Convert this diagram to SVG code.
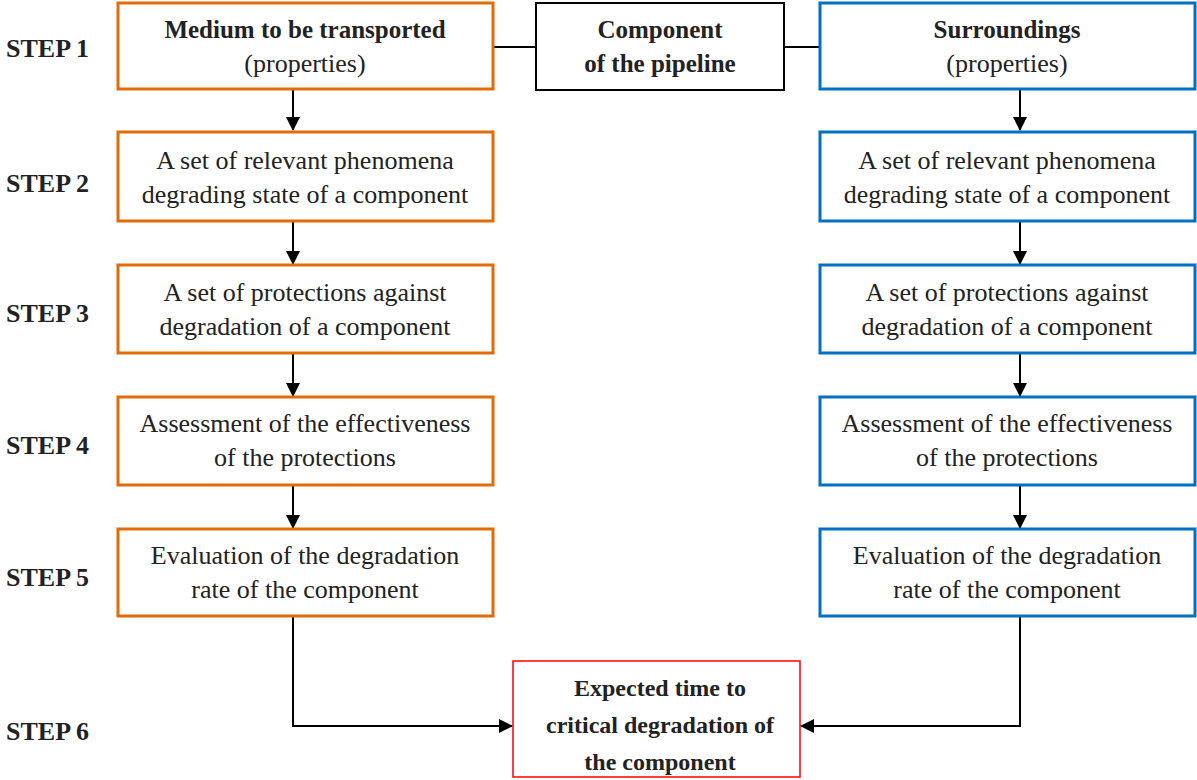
<svg xmlns="http://www.w3.org/2000/svg" width="1197" height="780" viewBox="0 0 1197 780" font-family="'Liberation Serif', 'Times New Roman', serif">
<style>
text{font-family:'Liberation Serif','Times New Roman',serif;fill:#222;}
.t{font-size:26px;text-anchor:middle;}
.b{font-size:25px;font-weight:bold;text-anchor:middle;}
.b2{font-size:24px;font-weight:bold;text-anchor:middle;}
.s{font-size:26px;font-weight:bold;}
.o{fill:#fff;stroke:#E36C0A;stroke-width:3;}
.bl{fill:#fff;stroke:#0070C0;stroke-width:3;}
.k{fill:#fff;stroke:#000;stroke-width:2;}
.r{fill:#fff;stroke:#FF0000;stroke-width:1.5;}
.c{fill:none;stroke:#000;stroke-width:2;}
</style>
<defs>
<marker id="ah2" markerWidth="14" markerHeight="14" refX="13" refY="7" orient="auto" markerUnits="userSpaceOnUse" viewBox="0 0 14 14"><path d="M0,0 L14,7 L0,14 z" fill="#000"/></marker>
</defs>
<g id="labels">
<text class="s" x="6" y="57">STEP 1</text>
<text class="s" x="6" y="192">STEP 2</text>
<text class="s" x="6" y="322">STEP 3</text>
<text class="s" x="6" y="454">STEP 4</text>
<text class="s" x="6" y="586">STEP 5</text>
<text class="s" x="6" y="740">STEP 6</text>
</g>
<g id="connectors">
<line class="c" x1="493" y1="47" x2="536" y2="47"/>
<line class="c" x1="784" y1="47" x2="820" y2="47"/>
<line class="c" x1="293" y1="89" x2="293" y2="130" marker-end="url(#ah2)"/>
<line class="c" x1="293" y1="221" x2="293" y2="264" marker-end="url(#ah2)"/>
<line class="c" x1="293" y1="353" x2="293" y2="396" marker-end="url(#ah2)"/>
<line class="c" x1="293" y1="485" x2="293" y2="528" marker-end="url(#ah2)"/>
<line class="c" x1="1020" y1="89" x2="1020" y2="130" marker-end="url(#ah2)"/>
<line class="c" x1="1020" y1="221" x2="1020" y2="264" marker-end="url(#ah2)"/>
<line class="c" x1="1020" y1="353" x2="1020" y2="396" marker-end="url(#ah2)"/>
<line class="c" x1="1020" y1="485" x2="1020" y2="528" marker-end="url(#ah2)"/>
<polyline class="c" points="293,616 293,726 512,726" marker-end="url(#ah2)"/>
<polyline class="c" points="1020,616 1020,726 801,726" marker-end="url(#ah2)"/>
</g>
<g id="medium">
<rect class="o" x="118" y="3" width="375" height="86"/>
<text class="b" x="305" y="38">Medium to be transported</text>
<text class="t" x="305" y="72">(properties)</text>
</g>
<g id="component">
<rect class="k" x="536" y="3" width="248" height="87"/>
<text class="b" x="660" y="38">Component</text>
<text class="b" x="660" y="72">of the pipeline</text>
</g>
<g id="surroundings">
<rect class="bl" x="820" y="3" width="375" height="86"/>
<text class="b" x="1007" y="38">Surroundings</text>
<text class="t" x="1007" y="72">(properties)</text>
</g>
<g id="l2">
<rect class="o" x="118" y="132" width="375" height="89"/>
<text class="t" x="305" y="169">A set of relevant phenomena</text>
<text class="t" x="305" y="203">degrading state of a component</text>
</g>
<g id="r2">
<rect class="bl" x="820" y="132" width="375" height="89"/>
<text class="t" x="1007" y="169">A set of relevant phenomena</text>
<text class="t" x="1007" y="203">degrading state of a component</text>
</g>
<g id="l3">
<rect class="o" x="118" y="265" width="375" height="88"/>
<text class="t" x="305" y="301">A set of protections against</text>
<text class="t" x="305" y="335">degradation of a component</text>
</g>
<g id="r3">
<rect class="bl" x="820" y="265" width="375" height="88"/>
<text class="t" x="1007" y="301">A set of protections against</text>
<text class="t" x="1007" y="335">degradation of a component</text>
</g>
<g id="l4">
<rect class="o" x="118" y="397" width="375" height="88"/>
<text class="t" x="305" y="432">Assessment of the effectiveness</text>
<text class="t" x="305" y="466">of the protections</text>
</g>
<g id="r4">
<rect class="bl" x="820" y="397" width="375" height="88"/>
<text class="t" x="1007" y="432">Assessment of the effectiveness</text>
<text class="t" x="1007" y="466">of the protections</text>
</g>
<g id="l5">
<rect class="o" x="118" y="529" width="375" height="87"/>
<text class="t" x="305" y="564">Evaluation of the degradation</text>
<text class="t" x="305" y="598">rate of the component</text>
</g>
<g id="r5">
<rect class="bl" x="820" y="529" width="375" height="87"/>
<text class="t" x="1007" y="564">Evaluation of the degradation</text>
<text class="t" x="1007" y="598">rate of the component</text>
</g>
<g id="result">
<rect class="r" x="513" y="661" width="287" height="116"/>
<text class="b2" x="660" y="696">Expected time to</text>
<text class="b2" x="660" y="733">critical degradation of</text>
<text class="b2" x="660" y="770">the component</text>
</g>
</svg>
